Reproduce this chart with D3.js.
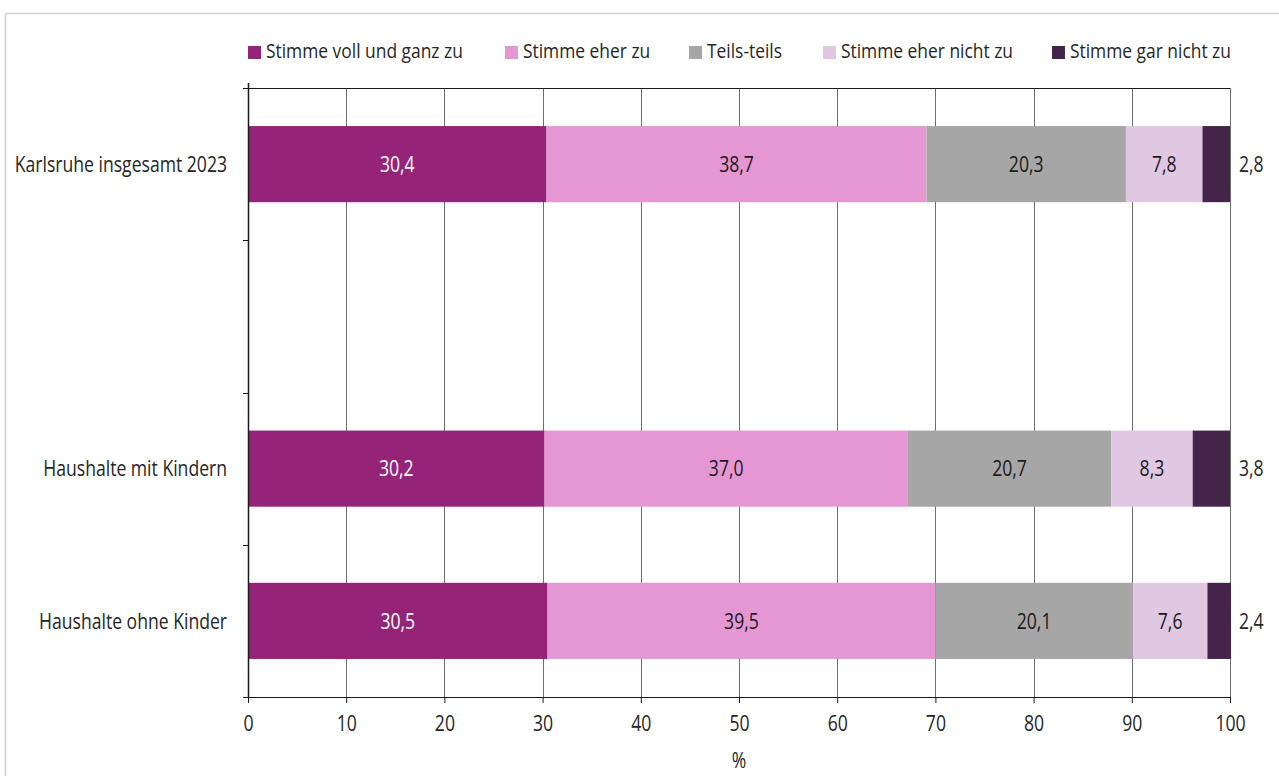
<!DOCTYPE html>
<html>
<head>
<meta charset="utf-8">
<script src="https://cdn.jsdelivr.net/npm/d3@7"></script>
<style>
  body { margin: 0; background: #fff; }
  text { font-family: "Open Sans", sans-serif; fill: #1a1a1a; }
</style>
</head>
<body>
<svg width="1279" height="776"></svg>
<script>
var categories = ["Karlsruhe insgesamt 2023", "", "Haushalte mit Kindern", "Haushalte ohne Kinder"],
    series = ["Stimme voll und ganz zu", "Stimme eher zu", "Teils-teils", "Stimme eher nicht zu", "Stimme gar nicht zu"],
    colors = ["#952478", "#e597d4", "#a6a6a6", "#e0c8e2", "#45244a"],
    labelColors = ["#fff", "#1a1a1a", "#1a1a1a", "#1a1a1a", "#1a1a1a"];

var karlsruhe = [30.4, 38.7, 20.3, 7.8, 2.8],
    mitKindern = [30.2, 37.0, 20.7, 8.3, 3.8],
    ohneKinder = [30.5, 39.5, 20.1, 7.6, 2.4];

var rows = [
  {name: categories[0], values: karlsruhe},
  {name: categories[2], values: mitKindern},
  {name: categories[3], values: ohneKinder}
];

var xTicks = d3.range(0, 101, 10);

var svg = d3.select("svg"),
    margin = {top: 88, right: 49, bottom: 79, left: 248},
    width = 1279 - margin.left - margin.right,
    height = 776 - margin.top - margin.bottom;

// condensed-looking text: Open Sans squeezed horizontally
function label(parent, px, py, str, anchor, color, size, squeeze) {
  return parent.append("g")
      .attr("transform", "translate(" + px + "," + py + ") scale(" + (squeeze || 0.8) + ",1)")
    .append("text")
      .attr("dy", "0.35em")
      .attr("text-anchor", anchor)
      .style("font-size", (size || 22) + "px")
      .style("fill", color || "#262626")
      .text(str);
}

// outer frame
svg.append("rect")
    .attr("x", 5.5).attr("y", 13.5)
    .attr("width", 1300).attr("height", 800)
    .attr("fill", "none").attr("stroke", "#d0d0d0").attr("stroke-width", 1.5);

var g = svg.append("g").attr("transform", "translate(" + margin.left + "," + margin.top + ")");

var x = d3.scaleLinear().domain([0, 100]).range([0, width]);
var y = d3.scaleBand().domain(categories).range([0, height]).paddingInner(0.5).paddingOuter(0.25);

// gridlines
g.selectAll(".grid")
  .data(xTicks.slice(1))
  .enter().append("line")
    .attr("x1", d => Math.round(x(d)) + 0.5).attr("x2", d => Math.round(x(d)) + 0.5)
    .attr("y1", 0).attr("y2", height)
    .attr("stroke", "#6e6e6e").attr("stroke-width", 1);

// top border
g.append("line")
    .attr("x1", 0).attr("x2", width)
    .attr("y1", 0.5).attr("y2", 0.5)
    .attr("stroke", "#1a1a1a");

// stacked bars
rows.forEach(function(r) {
  var acc = 0;
  r.values.forEach(function(v, i) {
    var x0 = acc;
    acc += v;
    g.append("rect")
        .attr("x", x(x0)).attr("y", y(r.name))
        .attr("width", x(acc) - x(x0)).attr("height", y.bandwidth())
        .attr("fill", colors[i]);
    var last = i === r.values.length - 1;
    label(g, last ? width + 9 : x(x0 + v / 2), y(r.name) + y.bandwidth() / 2,
          d3.format(".1f")(v).replace(".", ","),
          last ? "start" : "middle",
          last ? null : labelColors[i]);
  });
});

// x axis
var xAxis = g.append("g")
    .attr("transform", "translate(0," + height + ")")
    .call(d3.axisBottom(x).tickValues(xTicks).tickSize(6).tickPadding(12).tickFormat(d3.format("d")));
xAxis.select(".domain").attr("stroke", "#1a1a1a").attr("d", "M-5,0.5H" + width);
xAxis.selectAll(".tick line").attr("stroke", "#1a1a1a");
xAxis.selectAll("text")
    .attr("transform", "scale(0.8,1)")
    .style("font-family", "'Open Sans', sans-serif")
    .style("font-size", "22px").style("fill", "#262626");

label(g, x(50), height + 63, "%", "middle");

// y axis with ticks at band boundaries
g.append("line")
    .attr("x1", 0.5).attr("x2", 0.5).attr("y1", -5).attr("y2", height)
    .attr("stroke", "#1a1a1a").attr("stroke-width", 1.5);
d3.range(categories.length + 1).forEach(function(i) {
  var yy = Math.round(i * y.step()) + 0.5;
  g.append("line")
      .attr("x1", -5).attr("x2", 0).attr("y1", yy).attr("y2", yy)
      .attr("stroke", "#1a1a1a");
});
rows.forEach(function(r) {
  label(g, -21, y(r.name) + y.bandwidth() / 2, r.name, "end");
});

// legend
var legendX = [248, 505, 689, 823, 1052];
var legend = svg.append("g");
series.forEach(function(s, i) {
  legend.append("rect")
      .attr("x", legendX[i]).attr("y", 46)
      .attr("width", 13).attr("height", 13)
      .attr("fill", colors[i]);
  label(legend, legendX[i] + 18, 51, s, "start", null, 20, 0.87);
});
</script>
</body>
</html>
